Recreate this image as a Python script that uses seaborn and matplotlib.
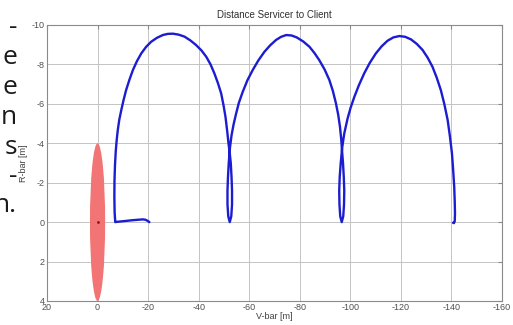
import numpy as np
import pandas as pd
import matplotlib
matplotlib.use('Agg')
import matplotlib.pyplot as plt
from matplotlib.patches import Ellipse
import seaborn as sns

# Trajectory of the servicer relative to the client (V-bar, R-bar in metres)
vbar = [-20.5, -20.0, -19.0, -17.9, -16.0, -14.0, -11.0, -8.5, -7.3, -7.0,
        # first hop
        -6.75, -6.65, -6.7, -6.9, -7.2, -7.6, -8.0, -8.6, -9.4, -10.3, -11.3,
        -12.6, -14.0, -15.6, -17.3, -19.2, -21.2, -23.5, -25.8, -27.8, -29.8,
        -32.1, -34.4, -36.7, -39.0, -41.1, -43.0, -44.7, -46.2, -47.6, -48.9,
        -49.8, -50.6, -51.3, -51.8, -52.3,
        # loop 1
        -52.7, -53.0, -53.2, -53.2, -52.9, -52.3, -51.7, -51.4, -51.4, -51.6,
        -51.9, -52.4,
        # second hop
        -53.0, -53.8, -54.8, -55.9, -57.4, -59.3, -61.4, -63.6, -66.0, -68.3,
        -70.6, -72.6, -74.6, -76.7, -78.8, -81.3, -83.8, -85.8, -87.7, -89.8,
        -91.7, -93.1, -94.3, -95.2, -95.9, -96.4, -96.7,
        # loop 2
        -97.1, -97.4, -97.6, -97.5, -97.2, -96.6, -96.0, -95.7, -95.6, -95.8,
        -96.2, -96.8,
        # third hop
        -97.6, -98.3, -98.9, -100.1, -101.6, -103.4, -105.5, -107.7, -110.1,
        -112.4, -114.7, -117.0, -119.4, -121.7, -124.0, -126.3, -128.6, -130.6,
        -132.5, -134.2, -135.8, -137.2, -138.5, -139.4, -140.2, -140.7, -141.1,
        -141.3, -141.4, -141.3, -141.0, -140.6]
rbar = [0.0, -0.05, -0.12, -0.14, -0.12, -0.10, -0.06, -0.03, -0.01, 0.0,
        -0.5, -1.3, -2.1, -2.9, -3.6, -4.2, -4.67, -5.2, -5.69, -6.2, -6.7,
        -7.22, -7.72, -8.17, -8.56, -8.89, -9.15, -9.35, -9.49, -9.55, -9.56,
        -9.51, -9.41, -9.22, -8.98, -8.71, -8.39, -8.0, -7.55, -7.06, -6.53,
        -5.95, -5.35, -4.6, -4.0, -3.5,
        -3.0, -2.3, -1.6, -0.9, -0.3, 0.0, -0.3, -0.9, -1.6, -2.3,
        -3.0, -3.8,
        -4.4, -4.95, -5.5, -6.05, -6.6, -7.2, -7.72, -8.2, -8.64, -8.97,
        -9.24, -9.4, -9.49, -9.47, -9.37, -9.17, -8.90, -8.58, -8.22, -7.75,
        -7.21, -6.65, -6.03, -5.45, -4.84, -4.2, -3.65,
        -3.0, -2.3, -1.6, -0.9, -0.3, 0.0, -0.3, -0.9, -1.6, -2.3,
        -3.0, -3.8,
        -4.5, -4.9, -5.25, -5.8, -6.36, -6.95, -7.55, -8.08, -8.56,
        -8.92, -9.20, -9.37, -9.44, -9.40, -9.27, -9.04, -8.73, -8.34,
        -7.88, -7.32, -6.70, -5.98, -5.18, -4.35, -3.49, -2.6, -1.79,
        -1.05, -0.44, -0.05, 0.05, 0.03]

# Keep-out ellipse around the client
zone_center = [0.0, 0.0]
zone_semi_axes = [3.0, 4.0]

xticks = [20, 0, -20, -40, -60, -80, -100, -120, -140, -160]
yticks = [-10, -8, -6, -4, -2, 0, 2, 4]

# text fragments of the neighbouring page column
side_text = ['-', 'e', 'e', 'n', 's', '-', 'n.']

df = pd.DataFrame({'V-bar': vbar, 'R-bar': rbar})

sns.set_style('whitegrid')
plt.rcParams['font.family'] = ['Liberation Sans', 'DejaVu Sans']
plt.rcParams['axes.unicode_minus'] = False

fig = plt.figure(figsize=(5.13, 3.25), dpi=100)
ax = fig.add_axes([47 / 513, 1 - 301 / 325, 455 / 513, 276 / 325])

ax.add_patch(Ellipse(zone_center, 2 * zone_semi_axes[0], 2 * zone_semi_axes[1],
                     facecolor='#f27474', edgecolor='none', zorder=2))
ax.plot(zone_center[0], zone_center[1], marker='.', markersize=2, color='#a01010', zorder=3)

sns.lineplot(data=df, x='V-bar', y='R-bar', sort=False, estimator=None,
             color='#1c1cd0', linewidth=1.7, ax=ax, zorder=4)

ax.set_xlim(20, -160)
ax.set_ylim(4, -10)
ax.set_xticks(xticks)
ax.set_yticks(yticks)
ax.grid(True, color='#c4c4c4', linewidth=0.7)
for s in ax.spines.values():
    s.set_color('#8a8a8a')
    s.set_linewidth(0.8)
ax.tick_params(axis='both', labelsize=6.5, labelcolor='#505050', direction='in',
               length=3, color='#8a8a8a', pad=1.5, top=True, right=True)

ax.set_title('Distance Servicer to Client', fontsize=7, color='#303030', pad=5)
ax.set_xlabel('V-bar [m]', fontsize=6.5, color='#404040', labelpad=0)
ax.set_ylabel('R-bar [m]', fontsize=6.5, color='#404040', labelpad=3)

# left column text, cut at the picture's left edge
ys = [27, 57, 87, 117, 147, 176, 205]
for t, y in zip(side_text, ys):
    fig.text(17 / 513, 1 - (y + 7) / 325, t, ha='right', va='baseline',
             fontsize=19, family='Open Sans', color='#1a1a1a')

fig.savefig('out.png', dpi=100)
